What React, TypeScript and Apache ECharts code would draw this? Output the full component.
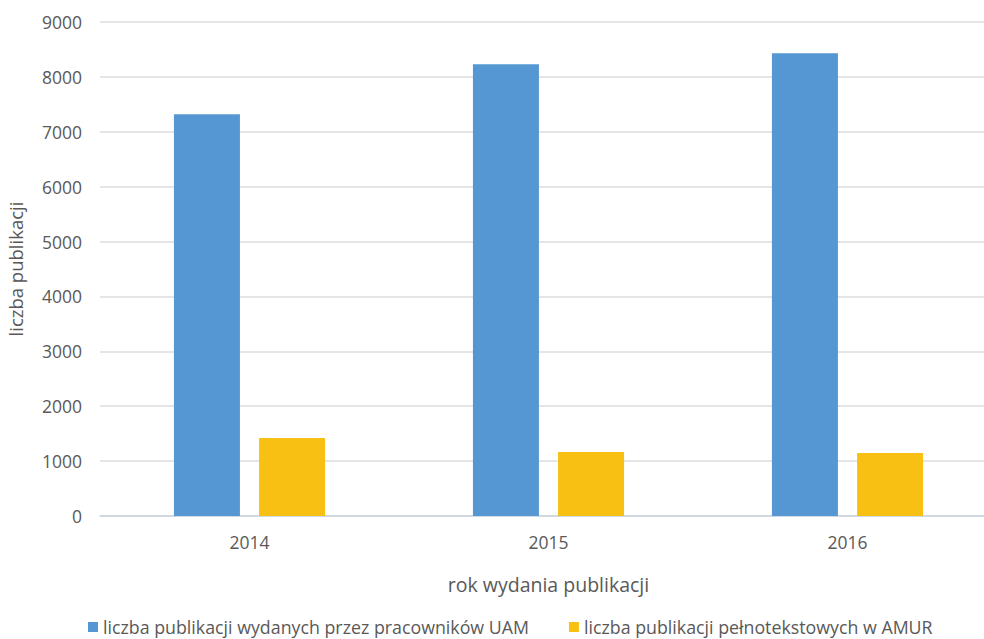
import React, { useEffect, useRef } from "react";
import * as echarts from "echarts";

const years = ["2014", "2015", "2016"];
const uamPublications = [7320, 8230, 8430];
const amurFullText = [1420, 1165, 1150];
const seriesNames = [
  "liczba publikacji wydanych przez pracowników UAM",
  "liczba publikacji pełnotekstowych w AMUR",
];

const FONT = "'Open Sans', 'Noto Sans', sans-serif";

export default function App() {
  const ref = useRef<HTMLDivElement>(null);
  useEffect(() => {
    const chart = echarts.init(ref.current!, undefined, { renderer: "svg" });
    chart.setOption({
      animation: false,
      backgroundColor: "#ffffff",
      textStyle: { fontFamily: FONT, color: "#595959" },
      grid: {
        left: 100,
        width: 897,
        top: 22,
        bottom: 123,
        containLabel: false,
        outerBoundsMode: "none",
      },
      legend: {
        left: 83,
        top: 612,
        itemWidth: 10,
        itemHeight: 10,
        icon: "rect",
        itemGap: 40,
        textStyle: { fontSize: 17.8, lineHeight: 20, color: "#595959", fontFamily: FONT },
        data: seriesNames,
      },
      xAxis: {
        type: "category",
        data: years,
        name: "rok wydania publikacji",
        nameLocation: "middle",
        nameGap: 58,
        nameTextStyle: { fontSize: 19.5, color: "#595959", fontFamily: FONT },
        axisLine: { lineStyle: { color: "#c9d3e0", width: 1.5 } },
        axisTick: { show: false },
        axisLabel: { fontSize: 17.5, color: "#595959", margin: 17, fontFamily: FONT },
      },
      yAxis: {
        type: "value",
        min: 0,
        max: 9000,
        interval: 1000,
        name: "liczba publikacji",
        nameLocation: "middle",
        nameGap: 75,
        nameTextStyle: { fontSize: 18.5, color: "#595959", fontFamily: FONT },
        axisLine: { show: false },
        axisTick: { show: false },
        axisLabel: {
          fontSize: 17.5,
          color: "#595959",
          margin: 18,
          fontFamily: FONT,
          formatter: (v: number) => String(v),
        },
        splitLine: { lineStyle: { color: "#dcdcdc", width: 1.5 } },
      },
      series: [
        {
          name: seriesNames[0],
          type: "bar",
          data: uamPublications,
          barWidth: 66,
          barGap: "29%",
          itemStyle: { color: "#5597d3" },
        },
        {
          name: seriesNames[1],
          type: "bar",
          data: amurFullText,
          barWidth: 66,
          itemStyle: { color: "#f8c012" },
        },
      ],
    });
    return () => chart.dispose();
  }, []);
  return (
    <div
      ref={ref}
      style={{ position: "fixed", left: 0, top: 0, width: 984, height: 639 }}
    />
  );
}
